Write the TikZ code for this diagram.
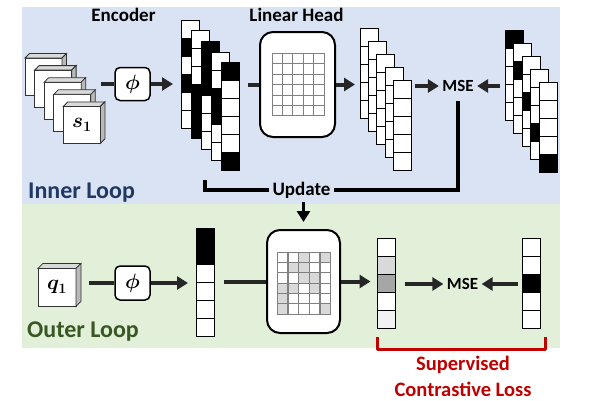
\documentclass[tikz,border=0pt]{standalone}
\usepackage{fontspec}
\setmainfont{Carlito}
\usepackage{amsmath}
\usetikzlibrary{arrows.meta}
\definecolor{innerbg}{HTML}{DAE3F3}
\definecolor{outerbg}{HTML}{E2F0D9}
\definecolor{innerblue}{HTML}{203864}
\definecolor{outergreen}{HTML}{385723}
\definecolor{lossred}{HTML}{C00000}
\definecolor{arrowgray}{HTML}{262626}
\definecolor{cellgray}{HTML}{D9D9D9}
\definecolor{midgray}{HTML}{A6A6A6}
\definecolor{palegray}{HTML}{F2F2F2}

\begin{document}
\begin{tikzpicture}[x=1pt,y=-1pt,
  cell/.style = {rectangle,draw=black,line width=0.8pt,minimum width=18pt,minimum height=18pt,inner sep=0pt,outer sep=0mm},
  gcell/.style = {rectangle,draw=gray,line width=0.6pt,minimum width=10.4pt,minimum height=10.4pt,inner sep=0pt,outer sep=0mm},
  cube/.style = {rectangle,draw=black!80,line width=0.8pt,fill=white,minimum size=37pt,inner sep=0pt,outer sep=0mm},
  phibox/.style = {rectangle,rounded corners=5pt,draw=black,line width=1.5pt,fill=white,minimum width=35pt,minimum height=33pt,font=\fontsize{20}{24}\selectfont},
  headbox/.style = {rectangle,rounded corners=13pt,draw=black,line width=2pt,fill=white},
  conn/.style = {draw=arrowgray,line width=4pt,-{Triangle[length=11pt,width=13pt]}},
  link/.style = {draw=arrowgray,line width=4pt},
  upd/.style = {draw=black,line width=4.5pt},
  lbl/.style = {font=\fontsize{19}{22}\selectfont\bfseries},
  mse/.style = {font=\fontsize{17}{20}\selectfont\bfseries},
  loop/.style = {anchor=base west,inner sep=0pt,font=\fontsize{24}{28}\selectfont\bfseries}]
\useasboundingbox (0,0) rectangle (600,400);
\fill[innerbg] (22,7) rectangle (560,204);
\fill[outerbg] (22,204) rectangle (560,348);

\foreach \i in {0,...,4} {
  \node[cube] (s\i) at (43.5+9.6*\i, 76.5+12.1*\i) {};
  \filldraw[draw=black!80,fill=gray!30,line width=0.8pt] (s\i.north west) -- ++(4.5,-4.5) -- ++(37,0) -- (s\i.north east) -- cycle;
  \filldraw[draw=black!80,fill=gray!55,line width=0.8pt] (s\i.north east) -- ++(4.5,-4.5) -- ++(0,37) -- (s\i.south east) -- cycle;
}
\node[font=\fontsize{20}{24}\selectfont] (slbl) at (s4) {$\boldsymbol{s_1}$};
\node[phibox] (phi1) at (132.5,84) {$\boldsymbol{\phi}$};
\node[lbl,anchor=base] (enc) at (123.5,21.7) {Encoder};

\foreach \c [count=\j from 0] in {white,black,white,black,white,white} \node[cell,fill=\c] (e1-\j) at (190, 29+18*\j) {};
\foreach \c [count=\j from 0] in {white,white,white,black,black,black} \node[cell,fill=\c] (e2-\j) at (200.2, 39.7+18*\j) {};
\foreach \c [count=\j from 0] in {black,black,black,white,white,white} \node[cell,fill=\c] (e3-\j) at (210.4, 50.4+18*\j) {};
\foreach \c [count=\j from 0] in {white,white,black,black,white,white} \node[cell,fill=\c] (e4-\j) at (220.6, 61.1+18*\j) {};
\foreach \c [count=\j from 0] in {black,white,white,white,white,black} \node[cell,fill=\c] (e5-\j) at (230.8, 71.8+18*\j) {};

\node[headbox,minimum width=75pt,minimum height=105pt] (head1) at (297.5,84.5) {};
\node[lbl,anchor=base] (lin) at (296.5,21.7) {Linear Head};
\foreach \r in {0,...,5} \foreach \c in {0,...,4} \node[gcell] (g-\r-\c) at (277.2+10.35*\c, 58.5+10.4*\r) {};

\foreach \k [count=\i from 0] in {1,...,5} \foreach \j in {0,...,4} \node[cell,fill=white] (p\k-\j) at (369+8.3*\i, 37+13*\i+18*\j) {};

\foreach \c [count=\j from 0] in {black,white,white,white,white} \node[cell,fill=\c] (t1-\j) at (514, 39+18*\j) {};
\foreach \c [count=\j from 0] in {white,black,white,white,white} \node[cell,fill=\c] (t2-\j) at (522.5, 52+18*\j) {};
\foreach \c [count=\j from 0] in {white,white,black,white,white} \node[cell,fill=\c] (t3-\j) at (531, 65+18*\j) {};
\foreach \c [count=\j from 0] in {white,white,white,black,white} \node[cell,fill=\c] (t4-\j) at (539.5, 78+18*\j) {};
\foreach \c [count=\j from 0] in {white,white,white,white,black} \node[cell,fill=\c] (t5-\j) at (548, 91+18*\j) {};

\node[mse] (mse1) at (458,86) {MSE};
\node[lbl,anchor=base] (update) at (301.5,195) {Update};
\coordinate (updl) at (205,180);

\draw[link,shorten <=10pt] (phi1.west -| s3.east) -- (phi1.west);
\draw[conn,shorten >=8pt] (phi1.east) -- (phi1.east -| e1-0.west);
\draw[link,shorten <=8pt] (head1.west -| e5-0.east) -- (head1.west);
\draw[conn,shorten >=5pt] (head1.east) -- (head1.east -| p1-0.west);
\draw[conn,shorten <=4pt] (mse1.west -| p5-0.east) -- (mse1.west);
\draw[conn,shorten <=5pt] (mse1.east -| t1-0.west) -- (mse1.east);
\draw[upd,shorten <=6pt] (mse1.south) |- (update.east);
\draw[upd] (update.west) -| (updl);

\node[loop,text=innerblue] (inner) at (28,198.3) {Inner Loop};

\node[cube,minimum size=38pt] (q) at (57,287.4) {};
\filldraw[draw=black!80,fill=gray!30,line width=0.8pt] (q.north west) -- ++(5,-5) -- ++(38,0) -- (q.north east) -- cycle;
\filldraw[draw=black!80,fill=gray!55,line width=0.8pt] (q.north east) -- ++(5,-5) -- ++(0,38) -- (q.south east) -- cycle;
\node[font=\fontsize{20}{24}\selectfont] (qlbl) at (q) {$\boldsymbol{q_1}$};
\node[phibox,minimum height=34pt] (phi2) at (132.5,283) {$\boldsymbol{\phi}$};

\foreach \c [count=\j from 0] in {black,black,white,white,white,white} \node[cell,fill=\c] (v-\j) at (205, 237+18*\j) {};

\node[headbox,minimum width=73pt,minimum height=103pt] (head2) at (303.5,281.5) {};
\foreach \i [count=\j from 0] in {white,white,cellgray,white,cellgray} \node[gcell,fill=\i] (h-0-\j) at (282.3+10.7*\j, 257.2) {};
\foreach \i [count=\j from 0] in {white,cellgray,cellgray,white,white} \node[gcell,fill=\i] (h-1-\j) at (282.3+10.7*\j, 267.5) {};
\foreach \i [count=\j from 0] in {white,white,cellgray,cellgray,white} \node[gcell,fill=\i] (h-2-\j) at (282.3+10.7*\j, 277.8) {};
\foreach \i [count=\j from 0] in {cellgray,cellgray,white,cellgray,white} \node[gcell,fill=\i] (h-3-\j) at (282.3+10.7*\j, 288.1) {};
\foreach \i [count=\j from 0] in {cellgray,white,white,white,white} \node[gcell,fill=\i] (h-4-\j) at (282.3+10.7*\j, 298.4) {};
\foreach \i [count=\j from 0] in {cellgray,white,white,white,cellgray} \node[gcell,fill=\i] (h-5-\j) at (282.3+10.7*\j, 308.7) {};

\foreach \c [count=\j from 0] in {white,cellgray,midgray,white,palegray} \node[cell,fill=\c] (o-\j) at (386.5, 247+18*\j) {};
\foreach \c [count=\j from 0] in {white,white,black,white,white} \node[cell,fill=\c] (u-\j) at (531.5, 247+18*\j) {};
\node[mse] (mse2) at (462.5,284) {MSE};

\draw[link,shorten <=13pt] (phi2.west -| q.east) -- (phi2.west);
\draw[conn,shorten >=8pt] (phi2.east) -- (phi2.east -| v-0.west);
\draw[link,shorten <=10pt] (head2.west -| v-0.east) -- (head2.west);
\draw[conn,shorten >=7pt] (head2.east) -- (head2.east -| o-0.west);
\draw[conn,shorten <=9pt] (mse2.west -| o-0.east) -- (mse2.west);
\draw[conn,shorten <=5pt] (mse2.east -| u-0.west) -- (mse2.east);
\draw[conn,draw=black,line width=3pt,shorten >=7pt] (update.south -| head2.north) -- (head2.north);

\node[loop,text=outergreen] (outer) at (27,337) {Outer Loop};

\draw[draw=lossred,line width=3pt,line join=round] ([yshift=-9pt]o-4.south west) -- ++(0,12) -| ([xshift=5pt,yshift=-9pt]u-4.south east);
\node[align=center,text=lossred,font=\fontsize{20.5}{26}\selectfont\bfseries] (loss) at (463,376) {Supervised\\Contrastive Loss};
\end{tikzpicture}
\end{document}
